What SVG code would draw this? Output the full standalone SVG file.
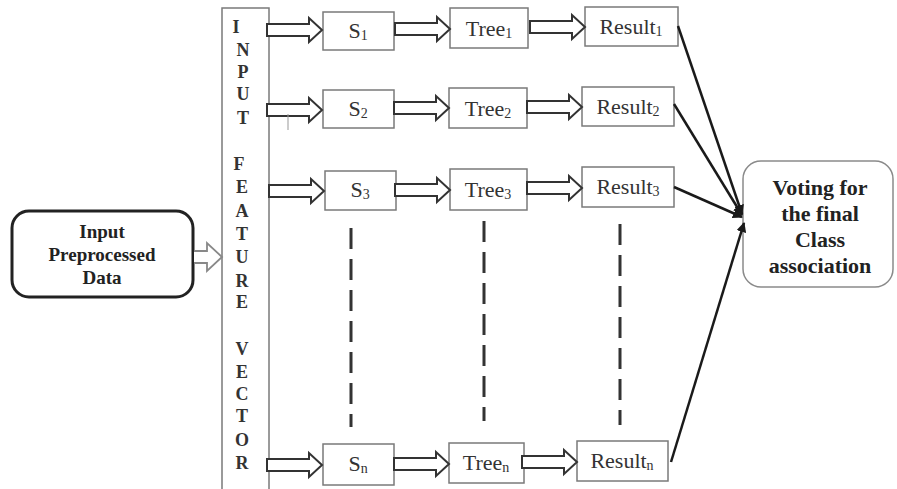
<svg xmlns="http://www.w3.org/2000/svg" width="897" height="489" viewBox="0 0 897 489">
<style>
text{font-family:"Liberation Serif","Times New Roman",Tinos,"DejaVu Serif",serif}
.box{fill:#fff;stroke:#7a7a7a;stroke-width:1.5}
.lbl{font-size:22px;fill:#333;text-anchor:middle}
.sub{font-size:14px}
.bold{font-weight:bold;fill:#222;text-anchor:middle}
.vl{font-weight:bold;font-size:18px;fill:#333;text-anchor:middle}
.ha{fill:#fff;stroke:#333;stroke-width:2;stroke-linejoin:miter}
.dash{stroke:#333;stroke-width:3;stroke-dasharray:21 10}
.con{stroke:#1a1a1a;stroke-width:2.5;fill:none}
</style>
<defs>
<path id="ha" d="M0,-6 H42 V-12 L55,0 L42,12 V6 H0 Z"/>
<marker id="ah" viewBox="0 0 10 10" refX="9" refY="5" markerWidth="4" markerHeight="4" orient="auto" markerUnits="strokeWidth">
<path d="M0,0 L10,5 L0,10 Z" fill="#1a1a1a"/>
</marker>
</defs>
<rect width="897" height="489" fill="#fff"/>

<g id="input">
<rect x="12" y="211" width="181" height="86" rx="17" fill="#fff" stroke="#222" stroke-width="3"/>
<text class="bold" font-size="19" x="102" y="238">Input</text>
<text class="bold" font-size="19" x="102" y="261">Preprocessed</text>
<text class="bold" font-size="19" x="102" y="284">Data</text>
</g>

<g id="feature-vector">
<rect x="222" y="8" width="47" height="490" fill="#fff" stroke="#7a7a7a" stroke-width="1.5"/>
<text class="vl" x="236" y="33">I</text>
<text class="vl" x="243" y="56">N</text>
<text class="vl" x="243" y="78">P</text>
<text class="vl" x="243" y="100">U</text>
<text class="vl" x="243" y="124">T</text>
<text class="vl" x="239" y="170">F</text>
<text class="vl" x="242" y="193">E</text>
<text class="vl" x="242" y="217">A</text>
<text class="vl" x="242" y="240">T</text>
<text class="vl" x="242" y="263">U</text>
<text class="vl" x="242" y="287">R</text>
<text class="vl" x="242" y="308">E</text>
<text class="vl" x="242" y="355">V</text>
<text class="vl" x="242" y="378">E</text>
<text class="vl" x="242" y="400">C</text>
<text class="vl" x="242" y="422">T</text>
<text class="vl" x="242" y="446">O</text>
<text class="vl" x="242" y="469">R</text>
</g>

<g id="s1"><rect class="box" x="323" y="12" width="71" height="38"/><text class="lbl" x="358" y="38">S<tspan class="sub" dy="2">1</tspan></text></g>
<g id="tree1"><rect class="box" x="450" y="8" width="78" height="40"/><text class="lbl" x="489" y="36">Tree<tspan class="sub" dy="2">1</tspan></text></g>
<g id="result1"><rect class="box" x="585" y="7" width="93" height="39"/><text class="lbl" x="631" y="34">Result<tspan class="sub" dy="2">1</tspan></text></g>

<g id="s2"><rect class="box" x="323" y="90" width="71" height="38"/><text class="lbl" x="358" y="116">S<tspan class="sub" dy="2">2</tspan></text></g>
<g id="tree2"><rect class="box" x="449" y="88" width="78" height="40"/><text class="lbl" x="488" y="116">Tree<tspan class="sub" dy="2">2</tspan></text></g>
<g id="result2"><rect class="box" x="582" y="87" width="92" height="39"/><text class="lbl" x="628" y="114">Result<tspan class="sub" dy="2">2</tspan></text></g>

<g id="s3"><rect class="box" x="325" y="171" width="71" height="39"/><text class="lbl" x="360" y="197">S<tspan class="sub" dy="2">3</tspan></text></g>
<g id="tree3"><rect class="box" x="450" y="169" width="77" height="41"/><text class="lbl" x="488" y="197">Tree<tspan class="sub" dy="2">3</tspan></text></g>
<g id="result3"><rect class="box" x="582" y="167" width="92" height="40"/><text class="lbl" x="628" y="194">Result<tspan class="sub" dy="2">3</tspan></text></g>

<g id="sn"><rect class="box" x="323" y="444" width="71" height="41"/><text class="lbl" x="358" y="471">S<tspan class="sub" dy="2">n</tspan></text></g>
<g id="treen"><rect class="box" x="449" y="443" width="75" height="40"/><text class="lbl" x="486" y="470">Tree<tspan class="sub" dy="2">n</tspan></text></g>
<g id="resultn"><rect class="box" x="577" y="441" width="91" height="40"/><text class="lbl" x="622" y="468">Result<tspan class="sub" dy="2">n</tspan></text></g>

<g id="voting">
<rect x="743" y="161" width="150" height="126" rx="18" fill="#fff" stroke="#8a8a8a" stroke-width="1.5"/>
<text class="bold" font-size="22" x="820" y="195">Voting for</text>
<text class="bold" font-size="22" x="820" y="221">the final</text>
<text class="bold" font-size="22" x="820" y="247">Class</text>
<text class="bold" font-size="22" x="820" y="273">association</text>
</g>

<g id="connectors">
<path d="M194,251 H207 V243 L222,257 L207,271 V263 H194" fill="#fff" stroke="#888" stroke-width="1.8"/>
<use href="#ha" class="ha" x="267" y="30"/>
<use href="#ha" class="ha" x="395" y="29"/>
<use href="#ha" class="ha" x="530" y="27"/>
<use href="#ha" class="ha" x="267" y="110"/>
<use href="#ha" class="ha" x="394" y="108"/>
<use href="#ha" class="ha" x="527" y="107"/>
<use href="#ha" class="ha" x="269" y="191"/>
<use href="#ha" class="ha" x="395" y="190"/>
<use href="#ha" class="ha" x="527" y="188"/>
<use href="#ha" class="ha" x="267" y="465"/>
<use href="#ha" class="ha" x="394" y="464"/>
<use href="#ha" class="ha" x="522" y="462"/>
<line x1="288" y1="114" x2="288" y2="130" stroke="#999" stroke-width="1"/>
<line class="dash" x1="351" y1="228" x2="351" y2="427"/>
<line class="dash" x1="484" y1="221" x2="484" y2="421"/>
<line class="dash" x1="620" y1="224" x2="620" y2="425"/>
<line class="con" x1="678" y1="26" x2="742" y2="214" marker-end="url(#ah)"/>
<line class="con" x1="674" y1="104" x2="742" y2="215" marker-end="url(#ah)"/>
<line class="con" x1="674" y1="187" x2="742" y2="217" marker-end="url(#ah)"/>
<line class="con" x1="671" y1="462" x2="744" y2="223" marker-end="url(#ah)"/>
</g>
</svg>
